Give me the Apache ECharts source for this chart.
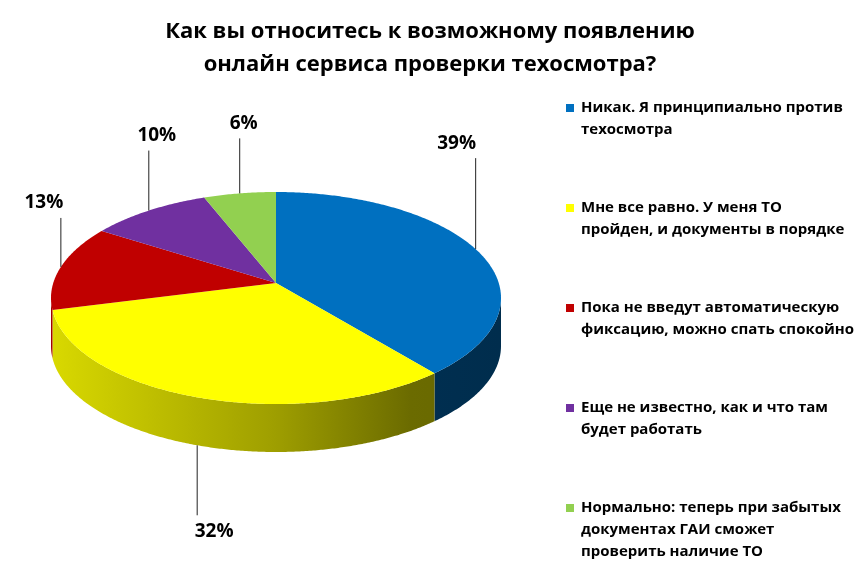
<!DOCTYPE html>
<html>
<head>
<meta charset="utf-8">
<script src="https://cdn.jsdelivr.net/npm/echarts@6/dist/echarts.min.js"></script>
<style>
html, body { margin: 0; padding: 0; background: #fff; }
#chart { width: 860px; height: 576px; }
</style>
</head>
<body>
<div id="chart"></div>
<script>
// Ответы (легенда)
var categories = [
	'Никак. Я принципиально против\nтехосмотра',
	'Мне все равно. У меня ТО\nпройден, и документы в порядке',
	'Пока не введут автоматическую\nфиксацию, можно спать спокойно',
	'Еще не известно, как и что там\nбудет работать',
	'Нормально: теперь при забытых\nдокументах ГАИ сможет\nпроверить наличие ТО'
];
// доли, %
var values = [39, 32, 13, 10, 6];
var colors = ['#0070C0', '#FFFF00', '#C00000', '#7030A0', '#92D050'];

// layout of the pseudo-3d pie
var CX = 276, CY = 298, RX = 225, RY = 106, DEPTH = 48, APEX = 15;
// leader lines of the percent labels
var leaderLen = [91, 70, 49, 60, 55];
var labelDx = [-19, 17, -17, 8, 4];

var total = values.reduce(function(a, b) { return a + b; }, 0);
var deg = Math.PI / 180;

// parametric angle on the top ellipse hit by a ray from the apex
function hitAngle(m) {
	var o = -APEX / RY;
	var c = Math.cos(m), s = Math.sin(m);
	var ad = -o * s;
	var k = -ad + Math.sqrt(ad * ad - o * o + 1);
	var u = k * c, v = o - k * s;
	return Math.atan2(-v, u);
}
function pt(t, dy) {
	return [CX + RX * Math.cos(t), CY - RY * Math.sin(t) + dy];
}
function shade(hex, f) {
	var n = parseInt(hex.slice(1), 16);
	var r = Math.round(((n >> 16) & 255) * f);
	var g = Math.round(((n >> 8) & 255) * f);
	var b = Math.round((n & 255) * f);
	return 'rgb(' + r + ',' + g + ',' + b + ')';
}

// slice borders
var bounds = [Math.PI / 2];
var cum = 0;
values.forEach(function(v) {
	cum += v;
	var t = hitAngle(Math.PI / 2 - cum / total * 2 * Math.PI);
	var prev = bounds[bounds.length - 1];
	while (t > prev + 1e-9) t -= 2 * Math.PI;
	bounds.push(t);
});

var renderItem = function(params, api) {
	var i = params.dataIndex;
	var val = api.value(0);
	var t0 = bounds[i], t1 = bounds[i + 1];
	var children = [];
	var step = 0.5 * deg;

	// side wall (front half only)
	var hi = Math.min(t0, 0), lo = Math.max(t1, -Math.PI);
	if (lo < hi) {
		var side = [];
		for (var t = hi; t > lo; t -= step) side.push(pt(t, 0));
		side.push(pt(lo, 0));
		for (var t = lo; t < hi; t += step) side.push(pt(t, DEPTH));
		side.push(pt(hi, DEPTH));
		children.push({
			type: 'polygon',
			shape: { points: side },
			style: {
				fill: new echarts.graphic.LinearGradient(CX - RX, 0, CX + RX, 0, [
					{ offset: 0, color: shade(colors[i], 0.85) },
					{ offset: 0.5, color: shade(colors[i], 0.62) },
					{ offset: 0.8, color: shade(colors[i], 0.42) },
					{ offset: 1, color: shade(colors[i], 0.40) }
				], true)
			}
		});
	}

	// top face
	var top = [[CX, CY - APEX]];
	for (var t = t0; t > t1; t -= step) top.push(pt(t, 0));
	top.push(pt(t1, 0));
	children.push({ type: 'polygon', shape: { points: top }, style: { fill: colors[i] } });

	// leader line and label
	var before = 0;
	for (var j = 0; j < i; j++) before += values[j];
	var tm = hitAngle(Math.PI / 2 - (before + val / 2) / total * 2 * Math.PI);
	var up = Math.sin(tm) >= 0;
	var a = pt(tm, up ? 0 : DEPTH);
	var endY = up ? a[1] - leaderLen[i] : a[1] + leaderLen[i];
	children.push({
		type: 'line',
		shape: { x1: a[0], y1: a[1], x2: a[0], y2: endY },
		style: { stroke: '#222', lineWidth: 1 }
	});
	children.push({
		type: 'text',
		x: a[0] + labelDx[i],
		y: up ? endY - 15 : endY + 16,
		style: {
			text: Math.round(val / total * 100) + '%',
			font: 'bold 19px "Open Sans"',
			fill: '#000',
			align: 'center',
			verticalAlign: 'middle'
		}
	});
	return { type: 'group', children: children };
};

// legend drawn as graphics
var legendItems = [];
categories.forEach(function(name, i) {
	var y = 108 + i * 100;
	legendItems.push({
		type: 'rect', left: 566, top: y - 4,
		shape: { width: 8, height: 8 },
		style: { fill: colors[i] }
	});
	legendItems.push({
		type: 'text', left: 581, top: y - 11,
		style: { text: name, font: 'bold 15px "Open Sans"', fill: '#000', lineHeight: 22 }
	});
});

var chart = echarts.init(document.getElementById('chart'));
var option = {
	backgroundColor: '#fff',
	animation: false,
	title: {
		text: 'Как вы относитесь к возможному появлению\nонлайн сервиса проверки техосмотра?',
		left: 'center',
		top: 10,
		textStyle: {
			fontFamily: 'Open Sans',
			fontWeight: 'bold',
			fontSize: 22,
			lineHeight: 33,
			color: '#000'
		}
	},
	graphic: legendItems,
	series: [{
		type: 'custom',
		coordinateSystem: 'none',
		renderItem: renderItem,
		data: values.map(function(v, i) { return { name: categories[i], value: [v] }; })
	}]
};
chart.setOption(option);
</script>
</body>
</html>
